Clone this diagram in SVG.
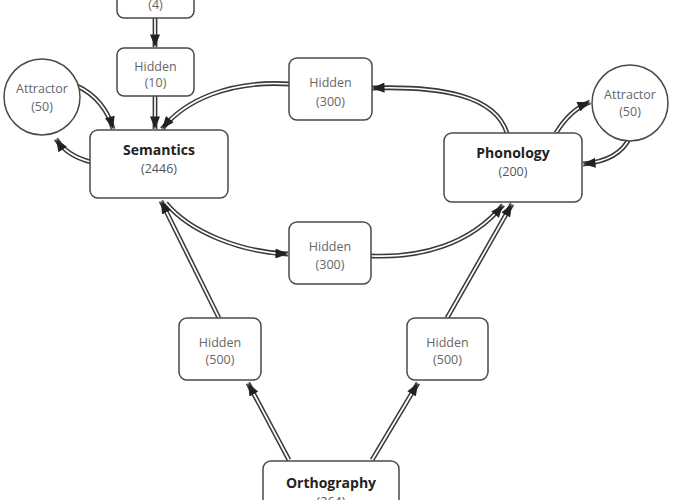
<svg xmlns="http://www.w3.org/2000/svg" xmlns:xlink="http://www.w3.org/1999/xlink" width="680" height="500" viewBox="0 0 680 500">
<style>
.box{fill:#fff;stroke:#4a4a4a;stroke-width:1.5}
.t{font-family:"Open Sans","Liberation Sans",sans-serif;font-size:12.5px;fill:#666;text-anchor:middle}
.b{font-family:"Open Sans","Liberation Sans",sans-serif;font-size:14px;font-weight:bold;fill:#222;text-anchor:middle}
.n{font-family:"Open Sans","Liberation Sans",sans-serif;font-size:12.5px;fill:#555;text-anchor:middle}
.o{fill:none;stroke:#3a3a3a;stroke-width:4.8}
.i{fill:none;stroke:#fff;stroke-width:1.7}
.m{fill:none;stroke:none;marker-end:url(#ah)}
</style>
<defs>
<marker id="ah" viewBox="0 0 10 8" refX="10" refY="4" markerWidth="13" markerHeight="10" markerUnits="userSpaceOnUse" orient="auto">
<path d="M0,0 L10,4 L0,8 z" fill="#222"/>
</marker>
<path id="p1" d="M155,18 L155,47"/>
<path id="p2" d="M155,96 L155,129"/>
<path id="p3" d="M77,86 C95,94 108,110 113,129"/>
<path id="p4" d="M91,162 C75,158 63,150 56,139"/>
<path id="p5" d="M290,84 C230,80 185,100 162,129"/>
<path id="p6" d="M507,133 C495,95 440,86 372,88"/>
<path id="p7" d="M556,133 C565,118 575,108 590,102"/>
<path id="p8" d="M630,137 C622,155 605,162 583,164"/>
<path id="p9" d="M166,203 C190,232 240,252 288,254"/>
<path id="p10" d="M371,256 C420,258 470,245 503,205"/>
<path id="p11" d="M219,318 L161,201"/>
<path id="p12" d="M447,318 L512,204"/>
<path id="p13" d="M289,460 L248,383"/>
<path id="p14" d="M372,460 L418,383"/>
</defs>
<g id="connectors">
<use href="#p1" class="o"/><use href="#p1" class="i"/><use href="#p1" class="m"/>
<use href="#p2" class="o"/><use href="#p2" class="i"/><use href="#p2" class="m"/>
<use href="#p3" class="o"/><use href="#p3" class="i"/><use href="#p3" class="m"/>
<use href="#p4" class="o"/><use href="#p4" class="i"/><use href="#p4" class="m"/>
<use href="#p5" class="o"/><use href="#p5" class="i"/><use href="#p5" class="m"/>
<use href="#p6" class="o"/><use href="#p6" class="i"/><use href="#p6" class="m"/>
<use href="#p7" class="o"/><use href="#p7" class="i"/><use href="#p7" class="m"/>
<use href="#p8" class="o"/><use href="#p8" class="i"/><use href="#p8" class="m"/>
<use href="#p9" class="o"/><use href="#p9" class="i"/><use href="#p9" class="m"/>
<use href="#p10" class="o"/><use href="#p10" class="i"/><use href="#p10" class="m"/>
<use href="#p11" class="o"/><use href="#p11" class="i"/><use href="#p11" class="m"/>
<use href="#p12" class="o"/><use href="#p12" class="i"/><use href="#p12" class="m"/>
<use href="#p13" class="o"/><use href="#p13" class="i"/><use href="#p13" class="m"/>
<use href="#p14" class="o"/><use href="#p14" class="i"/><use href="#p14" class="m"/>
</g>
<g id="top4">
<rect class="box" x="117" y="-30" width="77" height="48" rx="7"/>
<text class="t" x="155.5" y="9">(4)</text>
</g>
<g id="hidden10">
<rect class="box" x="117" y="48" width="77" height="48" rx="7"/>
<text class="t" x="155.5" y="71">Hidden</text>
<text class="t" x="155.5" y="87">(10)</text>
</g>
<g id="attractorL">
<circle class="box" cx="42" cy="97" r="38"/>
<text class="t" x="42" y="93">Attractor</text>
<text class="t" x="42" y="111">(50)</text>
</g>
<g id="semantics">
<rect class="box" x="90" y="130" width="138" height="68" rx="8"/>
<text class="b" x="159" y="155">Semantics</text>
<text class="n" x="159" y="173">(2446)</text>
</g>
<g id="hidden300top">
<rect class="box" x="289" y="58" width="83" height="62" rx="8"/>
<text class="t" x="330.5" y="87">Hidden</text>
<text class="t" x="330.5" y="106">(300)</text>
</g>
<g id="phonology">
<rect class="box" x="444" y="133" width="138" height="69" rx="8"/>
<text class="b" x="513" y="158">Phonology</text>
<text class="n" x="513" y="176">(200)</text>
</g>
<g id="attractorR">
<circle class="box" cx="630" cy="103" r="38"/>
<text class="t" x="630" y="99">Attractor</text>
<text class="t" x="630" y="116">(50)</text>
</g>
<g id="hidden300mid">
<rect class="box" x="289" y="222" width="82" height="62" rx="8"/>
<text class="t" x="330" y="251">Hidden</text>
<text class="t" x="330" y="269">(300)</text>
</g>
<g id="hidden500L">
<rect class="box" x="179" y="318" width="82" height="62" rx="8"/>
<text class="t" x="220" y="347">Hidden</text>
<text class="t" x="220" y="364">(500)</text>
</g>
<g id="hidden500R">
<rect class="box" x="407" y="318" width="81" height="62" rx="8"/>
<text class="t" x="447.5" y="347">Hidden</text>
<text class="t" x="447.5" y="364">(500)</text>
</g>
<g id="orthography">
<rect class="box" x="263" y="461" width="136" height="70" rx="8"/>
<text class="b" x="331" y="488">Orthography</text>
<text class="n" x="331" y="506">(264)</text>
</g>
</svg>
